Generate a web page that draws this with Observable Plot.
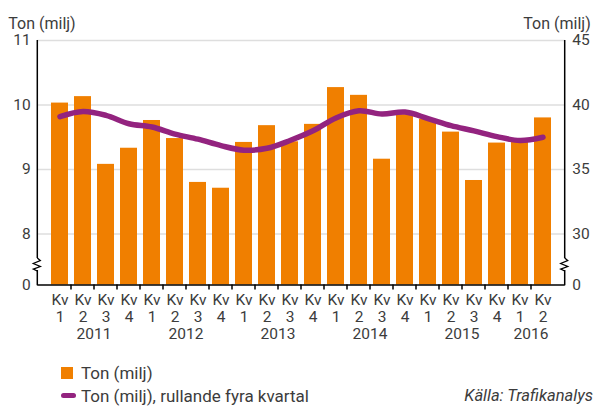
<!DOCTYPE html>
<html><head><meta charset="utf-8">
<script src="https://cdn.jsdelivr.net/npm/d3@7"></script>
<script src="https://cdn.jsdelivr.net/npm/@observablehq/plot@0.6"></script>
<style>
body{margin:0;background:#fff;font-family:Roboto,"Open Sans",sans-serif;color:#3c3c3c}
#wrap{position:relative;width:598px;height:407px;overflow:hidden}
#legend{position:absolute;left:0;top:0;width:598px;height:407px;pointer-events:none;font-size:17px}
.li{position:absolute;white-space:nowrap;line-height:20px}
.sw{position:absolute}
</style></head><body><div id="wrap"><div id="chart"></div><div id="legend"></div></div>
<script>
const years = ["2011","2012","2013","2014","2015","2016"];
const quarterYears = ["2011","2011","2011","2011","2012","2012","2012","2012","2013","2013","2013","2013","2014","2014","2014","2014","2015","2015","2015","2015","2016","2016"];
const quarterNums = ["1","2","3","4","1","2","3","4","1","2","3","4","1","2","3","4","1","2","3","4","1","2"];
// Ton (milj) per quarter (left axis)
const tons = [10.03,10.13,9.08,9.33,9.76,9.48,8.80,8.71,9.42,9.68,9.43,9.70,10.27,10.15,9.16,9.85,9.78,9.58,8.83,9.41,9.43,9.80];
// Ton (milj), rolling four quarters (right axis)
const rolling = [39.1,39.5,39.2,38.55,38.3,37.75,37.35,36.85,36.5,36.65,37.25,38.0,39.0,39.55,39.3,39.45,38.95,38.4,38.0,37.55,37.25,37.5];
const leftTicks = [8,9,10,11];
const rightTicks = [30,35,40,45];
const axisBreakValue = 7.21; // left-axis value drawn as "0" after the break
const orange = "#f07f00", purple = "#93237f";

const data = tons.map((t, i) => ({
  key: quarterYears[i] + "-" + i,
  year: quarterYears[i],
  q: quarterNums[i],
  tons: t,
  roll: rolling[i]
}));
const keys = data.map(d => d.key);
const toLeft = r => (r + 10) / 5;       // right axis value -> left scale
const toRight = l => 5 * l - 10;

const W = 598, H = 350, mt = 40, mb = 65.5, ml = 37.3, mr = 33.3;
const font = "Roboto, 'Open Sans', sans-serif";

const chart = Plot.plot({
  width: W, height: H,
  marginTop: mt, marginBottom: mb, marginLeft: ml, marginRight: mr,
  style: {fontFamily: font, fontSize: "15px", color: "#3c3c3c", background: "#fff", overflow: "visible"},
  x: {type: "band", domain: keys, padding: 0.25, align: 0.5},
  y: {domain: [axisBreakValue, 11]},
  marks: [
    Plot.ruleY(leftTicks, {stroke: "#dedede", strokeWidth: 1.5}),
    Plot.barY(data, {x: "key", y1: axisBreakValue, y2: "tons", fill: orange}),
    Plot.ruleY([axisBreakValue], {stroke: "#000", strokeWidth: 1.5}),
    Plot.line(data, {x: "key", y: d => toLeft(d.roll), stroke: purple, strokeWidth: 5.5, curve: "catmull-rom", strokeLinecap: "round", strokeLinejoin: "round"}),
    Plot.axisY({anchor: "left", ticks: [axisBreakValue, ...leftTicks], tickSize: 0, tickPadding: 7, label: null,
      tickFormat: d => d === axisBreakValue ? "0" : String(d), fontSize: 15.5}),
    Plot.axisY({anchor: "right", ticks: [axisBreakValue, ...rightTicks.map(toLeft)], tickSize: 0, tickPadding: 7, label: null,
      tickFormat: d => d === axisBreakValue ? "0" : String(Math.round(toRight(d))), fontSize: 15.5}),
    Plot.axisX({tickSize: 0, tickPadding: 9, label: null, fontSize: 15.5, tickFormat: () => "Kv"}),
    Plot.axisX({tickSize: 0, tickPadding: 25.5, label: null, fontSize: 15.5,
      tickFormat: k => data[keys.indexOf(k)].q}),
    Plot.text(["Ton (milj)"], {frameAnchor: "top-left", dx: -29.5, dy: -23, textAnchor: "start", fontSize: 16, fill: "#3c3c3c"}),
    Plot.text(["Ton (milj)"], {frameAnchor: "top-right", dx: 25.5, dy: -23, textAnchor: "end", fontSize: 16, fill: "#3c3c3c"})
  ]
});
document.getElementById("chart").appendChild(chart);

// decorations derived from the library's scales
const xs = chart.scale("x"), ys = chart.scale("y");
const svg = d3.select(chart);
const y0 = ys.apply(axisBreakValue), y8 = ys.apply(8), yTop = ys.apply(11);
const xL = ml, xR = W - mr;
const g = svg.append("g");
// vertical axis lines
[xL, xR].forEach(x => g.append("line").attr("x1", x).attr("x2", x).attr("y1", yTop).attr("y2", y0 + 0.75)
  .attr("stroke", "#000").attr("stroke-width", 1.5));
// tick marks between bars
const gap = xs.step - xs.bandwidth;
keys.slice(1).forEach(k => {
  const x = xs.apply(k) - gap / 2;
  g.append("line").attr("x1", x).attr("x2", x).attr("y1", y0).attr("y2", y0 + 5).attr("stroke", "#000").attr("stroke-width", 1.5);
});
// axis breaks
const yb = y8 + 0.5 * (y0 - y8);
[xL, xR].forEach(x => {
  g.append("rect").attr("x", x - 2).attr("y", yb - 1).attr("width", 4).attr("height", 12).attr("fill", "#fff");
  g.append("path").attr("d", `M${x},${yb - 1} L${x + 3},${yb + 1.5} L${x - 4},${yb + 4.5} L${x + 3},${yb + 7.5} L${x - 4},${yb + 10} L${x},${yb + 12}`)
    .attr("fill", "none").attr("stroke", "#000").attr("stroke-width", 1.3);
});
// year labels centred under their quarters
years.forEach(yr => {
  const ks = data.filter(d => d.year === yr).map(d => xs.apply(d.key) + xs.bandwidth / 2);
  g.append("text").attr("x", d3.mean(ks)).attr("y", y0 + 54).attr("text-anchor", "middle")
    .attr("fill", "#3c3c3c").attr("font-size", 15.5).attr("font-family", font).text(yr);
});

// legend + source below the svg
const L = document.getElementById("legend");
L.innerHTML = `
  <div class="sw" style="left:61px;top:367px;width:12px;height:12px;background:${orange}"></div>
  <div class="li" style="left:81px;top:363px">Ton (milj)</div>
  <div class="sw" style="left:61px;top:393px;width:15px;height:5px;border-radius:3px;background:${purple}"></div>
  <div class="li" style="left:81px;top:386px">Ton (milj), rullande fyra kvartal</div>
  <div class="li" style="right:5px;top:386px;font-style:italic;font-size:16.5px">Källa: Trafikanalys</div>`;
</script></body></html>
